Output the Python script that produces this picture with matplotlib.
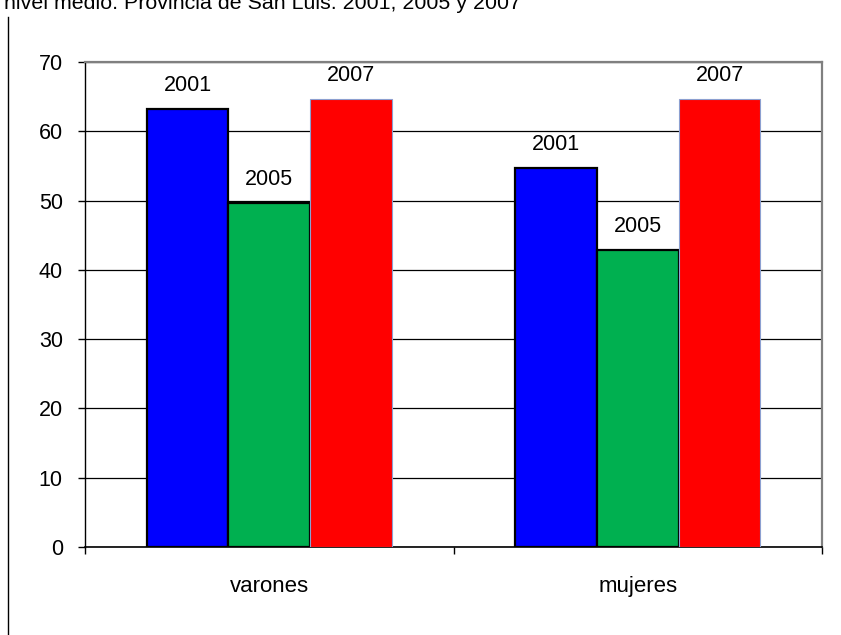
import numpy as np
import matplotlib
matplotlib.use("Agg")
import matplotlib.pyplot as plt
from matplotlib.lines import Line2D

plt.rcParams['font.family'] = ['Liberation Sans', 'DejaVu Sans']

# datos
categorias = ["varones", "mujeres"]
anios = ["2001", "2005", "2007"]
v2001 = [63.2, 54.7]
v2005 = [49.7, 42.8]
v2007 = [64.6, 64.6]
colores = ["#0000ff", "#00b050", "#ff0000"]
bordes = ["black", "black", "#8c9fd0"]

W, H = 841, 635
fig = plt.figure(figsize=(W/100, H/100), dpi=100)
ax = fig.add_axes([85/W, 1-547/H, (822-85)/W, (547-62)/H])

x = np.arange(len(categorias)) + 0.5
ancho = 0.222
series = [v2001, v2005, v2007]
fs = 15.5
for k, vals in enumerate(series):
    pos = x + (k-1)*ancho
    lw = 1.6 if k < 2 else 0.8
    ax.bar(pos, vals, ancho, color=colores[k], edgecolor=bordes[k], linewidth=lw, zorder=3)
    for p, v in zip(pos, vals):
        ax.annotate(anios[k], (p, v), xytext=(0, 13), textcoords="offset points",
                    ha="center", va="baseline", fontsize=fs, zorder=4)

ax.set_xlim(0, 2)
ax.set_ylim(0, 70)
ax.set_yticks(range(0, 71, 10))
ax.yaxis.grid(True, color="black", linewidth=0.9, zorder=0)
ax.set_xticks([0, 1, 2])
ax.set_xticklabels([])
ax.set_xticks(x, minor=True)
ax.set_xticklabels(categorias, minor=True)
ax.tick_params(axis="x", which="minor", length=0, pad=21, labelsize=16)
ax.tick_params(axis="x", which="major", length=5, width=1, direction="out")
ax.tick_params(axis="y", length=5, width=1, pad=11, labelsize=fs)

ax.spines["top"].set_color("#808080")
ax.spines["right"].set_color("#808080")
ax.spines["top"].set_linewidth(1.6)
ax.spines["right"].set_linewidth(1.6)
ax.spines["left"].set_linewidth(1.0)
ax.spines["bottom"].set_linewidth(1.2)

# titulo cortado arriba y linea del marco izquierdo
fig.text(4/W, 1-9/H, "nivel medio. Provincia de San Luis. 2001, 2005 y 2007",
         fontsize=15.4, va="baseline", ha="left")
fig.add_artist(Line2D([8/W, 8/W], [0, 1-17/H], color="black", linewidth=1))

fig.savefig("out.png", dpi=100)
